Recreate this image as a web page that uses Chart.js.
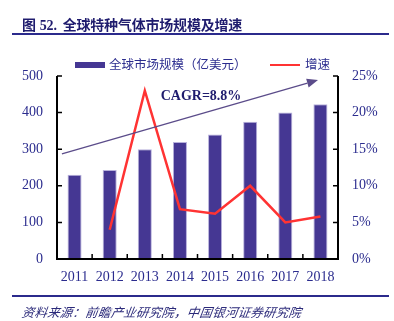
<!DOCTYPE html>
<html>
<head>
<meta charset="utf-8">
<script src="https://cdn.jsdelivr.net/npm/chart.js@4/dist/chart.umd.min.js"></script>
<style>
  html, body { margin: 0; padding: 0; background: #fff; }
  #wrap { position: relative; width: 394px; height: 321px; overflow: hidden; }
  #c { position: absolute; left: 0; top: 0; }
  .title { position: absolute; left: 22px; top: 14px; font: bold 14px "Liberation Serif", "Noto Sans CJK SC", serif; color: #1f1c6e; white-space: nowrap; letter-spacing: -0.2px; }
  .title .n { margin-left: 4px; margin-right: 6px; }
  .rule { position: absolute; left: 12px; width: 377px; background: #2b2a8c; }
  .src { position: absolute; left: 22px; top: 302px; font: italic 12.5px "Noto Sans CJK SC", sans-serif; color: #2b2a7a; white-space: nowrap; transform: skewX(-8deg); letter-spacing: 0.2px; }
  .leg { position: absolute; top: 56px; font: 12.5px "Noto Sans CJK SC", sans-serif; color: #2b2c8e; white-space: nowrap; line-height: 16px; }
  .sw { position: absolute; }
</style>
</head>
<body>
<div id="wrap">
  <canvas id="c" width="394" height="321"></canvas>
  <div class="title">图<span class="n">52.</span>全球特种气体市场规模及增速</div>
  <div class="rule" style="top:33px;height:2px;"></div>
  <div class="sw" style="left:75px;top:62px;width:30px;height:6px;background:#453793;"></div>
  <div class="leg" style="left:109px;">全球市场规模（亿美元）</div>
  <div class="sw" style="left:270px;top:64px;width:30px;height:2px;background:#ff3333;"></div>
  <div class="leg" style="left:305px;">增速</div>
  <div class="rule" style="top:295px;height:2px;"></div>
  <div class="src">资料来源：前瞻产业研究院，中国银河证券研究院</div>
</div>
<script>
const categories = ['2011', '2012', '2013', '2014', '2015', '2016', '2017', '2018'];
const marketSize = [230, 243, 300, 320, 340, 375, 400, 423];
const growthRate = [null, 4.0, 23.0, 6.8, 6.2, 10.0, 5.0, 5.8];
const leftTicks = [0, 100, 200, 300, 400, 500];
const rightTicks = [0, 5, 10, 15, 20, 25];
const cagrLabel = 'CAGR=8.8%';
const arrowFrom = { x: -0.36, y: 287 };
const arrowTo = { x: 6.93, y: 489 };
const cagrAt = { x: 3.6, y: 445 };

const TEXT = '#2b2c8e';
const tickFont = { family: '"Liberation Serif", "Times New Roman", serif', size: 14 };

const axesPlugin = {
  id: 'axes',
  afterDatasetsDraw(chart) {
    const { ctx, chartArea: a, scales } = chart;
    const xs = scales.x, yl = scales.y, yr = scales.y1;
    ctx.save();
    ctx.strokeStyle = '#000';
    ctx.lineWidth = 2;
    ctx.beginPath();
    ctx.moveTo(a.left, a.top); ctx.lineTo(a.left, a.bottom); ctx.lineTo(a.right, a.bottom); ctx.lineTo(a.right, a.top);
    ctx.stroke();
    ctx.lineWidth = 1.5;
    ctx.beginPath();
    leftTicks.forEach(v => { const y = yl.getPixelForValue(v); ctx.moveTo(a.left, y); ctx.lineTo(a.left + 5, y); });
    rightTicks.forEach(v => { const y = yr.getPixelForValue(v); ctx.moveTo(a.right, y); ctx.lineTo(a.right - 5, y); });
    for (let i = 1; i < categories.length; i++) {
      const x = (xs.getPixelForValue(i - 1) + xs.getPixelForValue(i)) / 2;
      ctx.moveTo(x, a.bottom); ctx.lineTo(x, a.bottom - 5);
    }
    ctx.stroke();
    // CAGR arrow annotation
    const x0 = xs.getPixelForValue(arrowFrom.x), y0 = yl.getPixelForValue(arrowFrom.y);
    const x1 = xs.getPixelForValue(arrowTo.x), y1 = yl.getPixelForValue(arrowTo.y);
    const ang = Math.atan2(y1 - y0, x1 - x0);
    const hl = 11, hw = 4.5;
    const bx = x1 - hl * Math.cos(ang), by = y1 - hl * Math.sin(ang);
    ctx.strokeStyle = '#5b4c8a';
    ctx.fillStyle = '#5b4c8a';
    ctx.lineWidth = 1.3;
    ctx.beginPath(); ctx.moveTo(x0, y0); ctx.lineTo(bx, by); ctx.stroke();
    ctx.beginPath();
    ctx.moveTo(x1, y1);
    ctx.lineTo(bx + hw * Math.sin(ang), by - hw * Math.cos(ang));
    ctx.lineTo(bx - hw * Math.sin(ang), by + hw * Math.cos(ang));
    ctx.closePath(); ctx.fill();
    ctx.fillStyle = '#1f1c6e';
    ctx.font = 'bold 14px "Liberation Serif", "Times New Roman", serif';
    ctx.textAlign = 'center'; ctx.textBaseline = 'middle';
    ctx.fillText(cagrLabel, xs.getPixelForValue(cagrAt.x), yl.getPixelForValue(cagrAt.y));
    ctx.restore();
  }
};

new Chart(document.getElementById('c'), {
  data: {
    labels: categories,
    datasets: [
      { type: 'line', label: '增速', data: growthRate, yAxisID: 'y1', borderColor: '#ff3333', borderWidth: 2.5, pointRadius: 0, tension: 0, spanGaps: false, order: 0 },
      { type: 'bar', label: '全球市场规模（亿美元）', data: marketSize, yAxisID: 'y', backgroundColor: '#453793', borderColor: '#b8b2dc', borderWidth: { top: 1, left: 1, right: 1, bottom: 0 }, categoryPercentage: 1, barPercentage: 0.4, order: 1 }
    ]
  },
  options: {
    responsive: false,
    animation: false,
    devicePixelRatio: 1,
    layout: { padding: { left: 0, right: 0, top: 76, bottom: 32 } },
    plugins: { legend: { display: false }, tooltip: { enabled: false } },
    scales: {
      x: {
        offset: true,
        grid: { display: false, drawTicks: false },
        border: { display: false },
        ticks: { color: TEXT, font: tickFont, padding: 10, maxRotation: 0 },
        afterFit(s) { s.height = 30; }
      },
      y: {
        position: 'left', min: 0, max: 500,
        grid: { display: false, drawTicks: false },
        border: { display: false },
        afterBuildTicks(s) { s.ticks = leftTicks.map(v => ({ value: v })); },
        ticks: { color: TEXT, font: tickFont, padding: 14 },
        afterFit(s) { s.width = 57; }
      },
      y1: {
        position: 'right', min: 0, max: 25,
        grid: { display: false, drawTicks: false },
        border: { display: false },
        afterBuildTicks(s) { s.ticks = rightTicks.map(v => ({ value: v })); },
        ticks: { color: TEXT, font: tickFont, padding: 14, callback: v => v + '%' },
        afterFit(s) { s.width = 56; }
      }
    }
  },
  plugins: [axesPlugin]
});
</script>
</body>
</html>
